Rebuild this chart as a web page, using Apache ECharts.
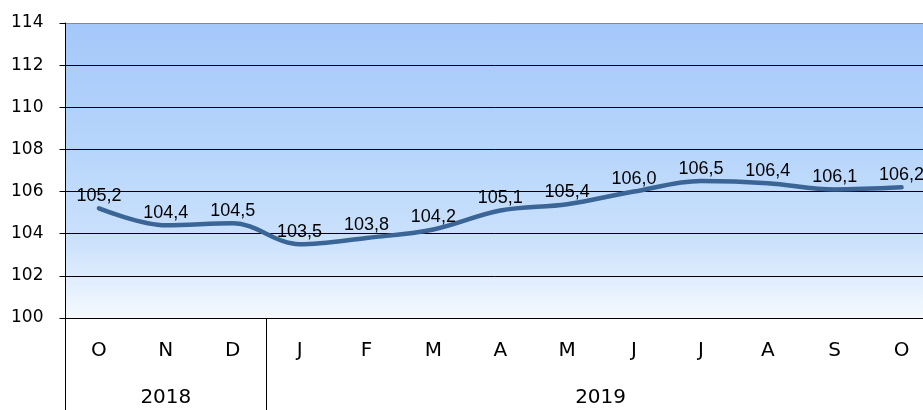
<!DOCTYPE html>
<html>
<head>
<meta charset="utf-8">
<script src="https://cdn.jsdelivr.net/npm/echarts@6/dist/echarts.min.js"></script>
<style>
html,body{margin:0;padding:0;background:#fff;}
#c{width:923px;height:410px;}
</style>
</head>
<body>
<div id="c"></div>
<script>
var months = ['O','N','D','J','F','M','A','M','J','J','A','S','O'];
var values = [105.2,104.4,104.5,103.5,103.8,104.2,105.1,105.4,106.0,106.5,106.4,106.1,106.2];
var years = ['2018','2019'];
var yearSpans = [3,10];
var yTicks = [100,102,104,106,108,110,112,114];

var bounds = [0], centers = [];
yearSpans.forEach(function(s){ var b = bounds[bounds.length-1]; centers.push(b + s/2); bounds.push(b + s); });

var chart = echarts.init(document.getElementById('c'), null, {renderer:'canvas'});
var black = '#000';
chart.setOption({
  animation:false,
  grid:{left:65.5, width:869.5, top:23, bottom:92, show:true, borderWidth:0, outerBoundsMode:'none', containLabel:false,
    backgroundColor:new echarts.graphic.LinearGradient(0,0,0,1,[
      {offset:0,color:'#A4C8FA'},{offset:0.45,color:'#B8D6FB'},{offset:0.75,color:'#CCE2FC'},{offset:1,color:'#F5F9FE'}])},
  xAxis:[{
    type:'category', data:months, position:'bottom', boundaryGap:true,
    axisLine:{show:true, lineStyle:{color:black,width:1}},
    axisTick:{show:false},
    axisLabel:{margin:23, fontFamily:'DejaVu Sans', fontSize:20, color:black},
    splitLine:{show:false}
  },{
    type:'value', min:0, max:months.length, position:'bottom',
    axisLine:{show:false},
    axisTick:{show:true, customValues:bounds, length:92, lineStyle:{color:black,width:1}},
    axisLabel:{show:true, customValues:centers, margin:70, fontFamily:'DejaVu Sans', fontSize:20, color:black,
      formatter:function(v){ for(var i=0;i<centers.length;i++){ if(Math.abs(centers[i]-v)<1e-6) return years[i]; } return ''; }},
    splitLine:{show:false}
  }],
  yAxis:{
    type:'value', min:yTicks[0], max:yTicks[yTicks.length-1], interval:2,
    axisLine:{show:true, lineStyle:{color:black,width:1}},
    axisTick:{show:true, length:6, lineStyle:{color:black}},
    axisLabel:{margin:22, fontFamily:'DejaVu Sans', fontSize:17, color:black},
    splitLine:{show:true, lineStyle:{color:['#000','#000','#000','#000','#000','#000','#000','#888'], width:1}}
  },
  series:[{
    type:'line', data:values, xAxisIndex:0, smooth:0.35, symbol:'circle', symbolSize:1, showSymbol:true,
    itemStyle:{color:'rgba(0,0,0,0)'},
    lineStyle:{color:'#3B6596', width:4.5, cap:'round'},
    label:{show:true, position:'top', distance:3, fontFamily:'Liberation Sans', fontSize:18, color:black,
      formatter:function(p){ return p.value.toFixed(1).replace('.',','); }},
    labelLayout:{hideOverlap:false}
  }]
});
</script>
</body>
</html>
